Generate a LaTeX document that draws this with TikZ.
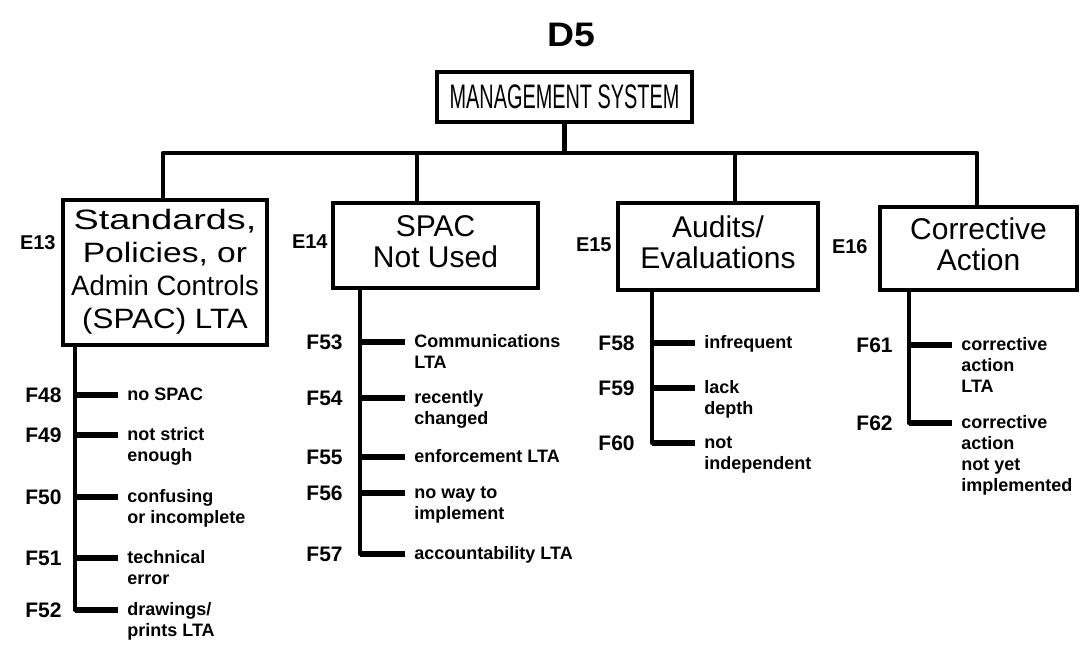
\documentclass[tikz,border=0pt]{standalone}
\usepackage{graphicx}
\usepackage{fontspec}
\setmainfont{Liberation Sans}
\newcommand{\itm}[6]{%
  \coordinate (j#1) at (#2,#3);
  \coordinate (e#1) at (#4,#3);
  \coordinate (p#1) at (#5,#3);
  \draw[stub] (j#1) -- (e#1);
  \node[itemtext] (t#1) at ([shift={(9,5)}]e#1) {\begin{tabular}[t]{@{}l@{}}#6\end{tabular}};
  \node[flabel] (l#1) at ([shift={(0,7.5)}]p#1) {F#1};
}
\begin{document}
\begin{tikzpicture}[x=0.5pt,y=-0.5pt,
  box/.style={draw, line width=2pt, inner sep=0pt, align=center},
  conn/.style={line width=2.2pt, line join=round},
  stub/.style={line width=2.8pt},
  itemtext/.style={inner sep=0pt, anchor=base west, font=\fontsize{9pt}{10.5pt}\selectfont\bfseries},
  flabel/.style={inner sep=0pt, anchor=base east, font=\fontsize{10.5pt}{12pt}\selectfont\bfseries},
  elabel/.style={inner sep=0pt, anchor=east, font=\fontsize{10pt}{12pt}\selectfont\bfseries},
  bigtext/.style={font=\fontsize{15pt}{15.5pt}\selectfont},
]
\useasboundingbox (0,0) rectangle (1081,648);

\node[font=\fontsize{17pt}{17pt}\selectfont\bfseries] (title) at (571,35) {\scalebox{1.1}[1]{D5}};

\node[box, minimum width=127.5pt, minimum height=25pt] (mgmt) at (564.5,97)
  {\fontsize{17pt}{17pt}\selectfont\scalebox{0.585}[1]{MANAGEMENT SYSTEM}};

\node[box, minimum width=102pt, minimum height=72.5pt] (e13) at (165,272.5)
  {\fontsize{14pt}{16.5pt}\selectfont\begin{tabular}{@{}c@{}}
   \scalebox{1.35}[1]{Standards,}\\
   \scalebox{1.2}[1]{Policies, or}\\
   \scalebox{0.98}[1]{Admin Controls}\\
   \scalebox{1.12}[1]{(SPAC) LTA}\end{tabular}};
\node[box, bigtext, minimum width=102.5pt, minimum height=42.5pt] (e14) at (435.5,245.5)
  {\begin{tabular}{@{}c@{}}SPAC\\Not Used\end{tabular}};
\node[box, bigtext, minimum width=100pt, minimum height=43.5pt] (e15) at (718,246.5)
  {\begin{tabular}{@{}c@{}}Audits/\\Evaluations\end{tabular}};
\node[box, bigtext, minimum width=98.5pt, minimum height=41.5pt] (e16) at (978.5,248.5)
  {\begin{tabular}{@{}c@{}}Corrective\\Action\end{tabular}};

\node[elabel] (le13) at (56,243) {E13};
\node[elabel] (le14) at (328,242) {E14};
\node[elabel] (le15) at (612,245) {E15};
\node[elabel] (le16) at (868,247) {E16};

% top connectors
\coordinate (busL) at (163,153);
\coordinate (busR) at (977,153);
\coordinate (b14) at (417,153);
\coordinate (b15) at (735,153);
\draw[conn] (mgmt.south) -- (mgmt.south |- busL);
\draw[conn] (busL |- e13.north) -- (busL) -- (busR) -- (busR |- e16.north);
\draw[conn] (b14) -- (b14 |- e14.north);
\draw[conn] (b15) -- (b15 |- e15.north);

% E13 branch
\itm{48}{75}{395}{118}{62}{no SPAC}
\itm{49}{75}{435}{118}{62}{not strict\\enough}
\itm{50}{75}{497}{118}{62}{confusing\\or incomplete}
\itm{51}{75}{558}{118}{62}{technical\\error}
\itm{52}{75}{610}{118}{62}{drawings/\\prints LTA}
\draw[conn] (e13.south -| j52) -- (j52) -- (e52);

% E14 branch
\itm{53}{360}{342}{405}{343}{Communications\\LTA}
\itm{54}{360}{398}{405}{343}{recently\\changed}
\itm{55}{360}{457}{405}{343}{enforcement LTA}
\itm{56}{360}{493}{405}{343}{no way to\\implement}
\itm{57}{360}{554}{405}{343}{accountability LTA}
\draw[conn] (e14.south -| j57) -- (j57) -- (e57);

% E15 branch
\itm{58}{652}{343}{695}{635}{infrequent}
\itm{59}{652}{388}{695}{635}{lack\\depth}
\itm{60}{652}{443}{695}{635}{not\\independent}
\draw[conn] (e15.south -| j60) -- (j60) -- (e60);

% E16 branch
\itm{61}{909}{345}{952}{893}{corrective\\action\\LTA}
\itm{62}{909}{423}{952}{893}{corrective\\action\\not yet\\implemented}
\draw[conn] (e16.south -| j62) -- (j62) -- (e62);
\end{tikzpicture}
\end{document}
